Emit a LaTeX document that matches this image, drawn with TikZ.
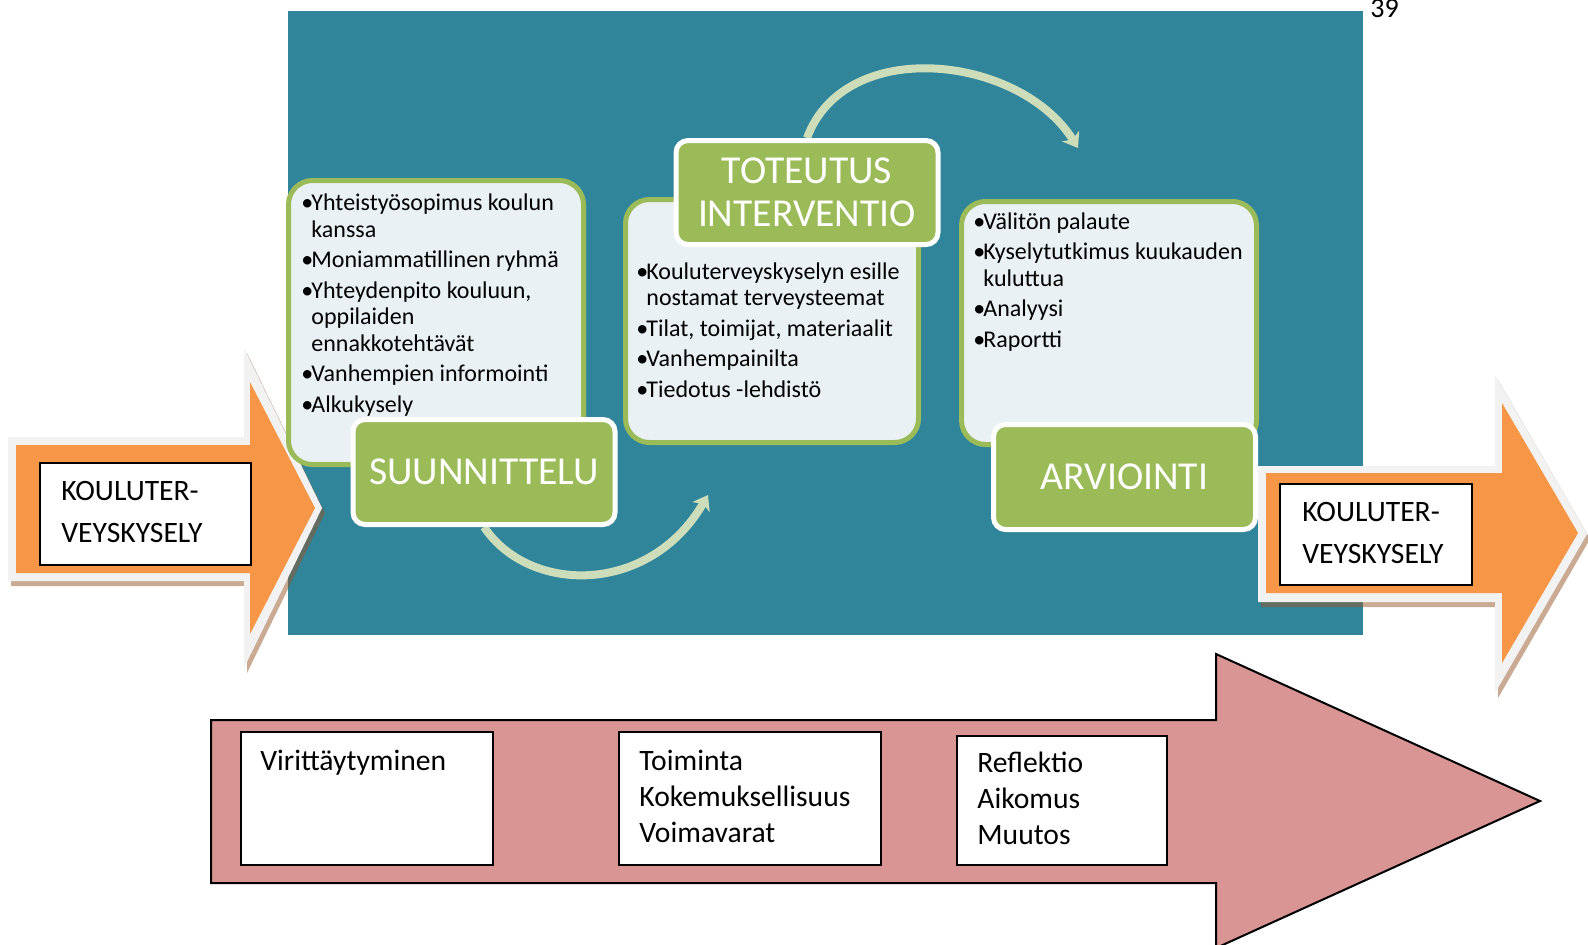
\documentclass[tikz,border=0pt]{standalone}
\usepackage{fontspec}
\setmainfont{Carlito}
\definecolor{tealbg}{RGB}{49,133,155}
\definecolor{leafgreen}{RGB}{155,187,89}
\definecolor{listfill}{RGB}{233,241,244}
\definecolor{surveyorange}{RGB}{247,150,70}
\definecolor{rimgray}{RGB}{242,242,242}
\definecolor{shadowbrown}{RGB}{150,85,40}
\definecolor{cyclegreen}{RGB}{205,221,186}
\definecolor{phasepink}{RGB}{217,149,148}
\usetikzlibrary{shapes,arrows,arrows.meta,positioning,calc,fit,backgrounds}

\newcommand{\bul}{\makebox[5pt][l]{•}}
\newcommand{\ind}{\hspace*{5pt}}

\begin{document}
\begin{tikzpicture}[x=0.5pt, y=-0.5pt,
    listbox/.style={draw=leafgreen, line width=2.5pt, fill=listfill, rounded corners=12pt, inner sep=0pt},
    titlebox/.style={draw=white, line width=2.5pt, fill=leafgreen, rounded corners=6pt, inner sep=0pt,
        minimum width=131pt, minimum height=52.5pt, text=white, align=center,
        text height=12.5pt, text depth=0pt, font=\fontsize{19.8}{21.5}\selectfont},
    listtext/.style={anchor=base west, inner sep=0pt, align=left, font=\fontsize{12}{13.25}\selectfont},
    whitebox/.style={draw=black, line width=1pt, fill=white, inner sep=0pt},
    surveytext/.style={anchor=base west, inner sep=0pt, align=left, font=\fontsize{14.8}{21}\selectfont},
    phasetext/.style={anchor=base west, inner sep=0pt, align=left, font=\fontsize{14.8}{18}\selectfont},
    cyclearrow/.style={draw=cyclegreen, line width=4pt, -{Stealth[length=7pt,width=10pt,inset=2pt]}}]
    \useasboundingbox (0,0) rectangle (1588,944);

    % Background panel
    \begin{scope}[on background layer]
        \fill[tealbg] (288,11) rectangle (1363,635);
    \end{scope}

    % Page number
    \node[anchor=base west, inner sep=0pt, font=\fontsize{14}{16}\selectfont] (pagenum) at (1370,17) {39};

    % Survey arrow, left
    \fill[shadowbrown, fill opacity=0.5, shift={(3,5)}] (8,437) -- (244,437) -- (244,348) -- (322,508)
        -- (244,668) -- (244,581) -- (8,581) -- cycle;
    \fill[rimgray] (8,437) -- (244,437) -- (244,348) -- (322,508) -- (244,668) -- (244,581) -- (8,581) -- cycle;
    \fill[surveyorange] (16,445) -- (250,445) -- (250,382) -- (315,508) -- (250,634) -- (250,573) -- (16,573) -- cycle;
    \node[whitebox, fit={(40,463) (251,565)}] (surveyin) {};
    \node[surveytext] (surveyintext) at (61,542) {KOULUTER-\\VEYSKYSELY};

    % Survey arrow, right
    \fill[shadowbrown, fill opacity=0.5, shift={(3,5)}] (1258,466) -- (1495,466) -- (1495,375) -- (1587,534)
        -- (1495,693) -- (1495,602) -- (1258,602) -- cycle;
    \fill[rimgray] (1258,466) -- (1495,466) -- (1495,375) -- (1587,534) -- (1495,693) -- (1495,602) -- (1258,602) -- cycle;
    \fill[surveyorange] (1266,473) -- (1502,473) -- (1502,403) -- (1578,533) -- (1502,663) -- (1502,593) -- (1266,593) -- cycle;
    \node[whitebox, fit={(1280,484) (1472,585)}] (surveyout) {};
    \node[surveytext] (surveyouttext) at (1302,563) {KOULUTER-\\VEYSKYSELY};

    % List boxes
    \node[listbox, fit={(288.5,180.5) (583.5,464.5)}] (planlist) {};
    \node[listtext] (plantext) at (301,412) {\bul Yhteistyösopimus koulun\\
        \ind kanssa\\[2pt]
        \bul Moniammatillinen ryhmä\\[2pt]
        \bul Yhteydenpito kouluun,\\
        \ind oppilaiden\\
        \ind ennakkotehtävät\\[2pt]
        \bul Vanhempien informointi\\[2pt]
        \bul Alkukysely};

    \node[listbox, fit={(625.5,199.5) (918.5,442.5)}] (dolist) {};
    \node[listtext] (dotext) at (636,397) {\bul Kouluterveyskyselyn esille\\
        \ind nostamat terveysteemat\\[2pt]
        \bul Tilat, toimijat, materiaalit\\[2pt]
        \bul Vanhempainilta\\[2pt]
        \bul Tiedotus -lehdistö};

    \node[listbox, fit={(961.5,201.5) (1256.5,444.5)}] (evallist) {};
    \node[listtext] (evaltext) at (973,347) {\bul Välitön palaute\\[2pt]
        \bul Kyselytutkimus kuukauden\\
        \ind kuluttua\\[2pt]
        \bul Analyysi\\[2pt]
        \bul Raportti};

    % Phase titles
    \node[titlebox] (plan) at (484,472) {SUUNNITTELU};
    \node[titlebox, text height=34pt, minimum height=52pt] (do) at (807,192.5) {TOTEUTUS\\INTERVENTIO};
    \node[titlebox] (eval) at (1124.5,477) {ARVIOINTI};

    % Cycle arrows
    \coordinate (doin) at (708,495);
    \coordinate (evalin) at (1078,148);
    \begin{scope}[on background layer]
        \draw[cyclearrow] (plan.south) .. controls (530,595) and (650,595) .. (doin);
        \draw[cyclearrow] (do.north) .. controls (845,35) and (1020,55) .. (evalin);
    \end{scope}

    % Process arrow
    \filldraw[fill=phasepink, draw=black, line width=1pt] (211,720) -- (1216,720) -- (1216,654) -- (1540,801)
        -- (1216,948) -- (1216,883) -- (211,883) -- cycle;
    \node[whitebox, fit={(241,732) (493,865)}] (tune) {};
    \node[phasetext] (tunetext) at (260,770) {Virittäytyminen};
    \node[whitebox, fit={(619,732) (881,865)}] (act) {};
    \node[phasetext] (acttext) at (639,842) {Toiminta\\Kokemuksellisuus\\Voimavarat};
    \node[whitebox, fit={(957,736) (1167,865)}] (reflect) {};
    \node[phasetext] (reflecttext) at (977,844) {Reflektio\\Aikomus\\Muutos};
\end{tikzpicture}
\end{document}
